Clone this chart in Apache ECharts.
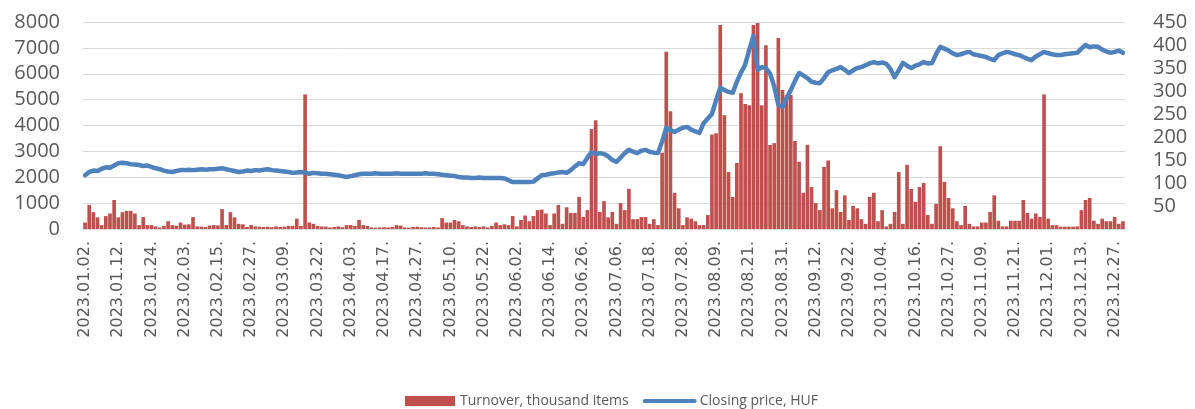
<!DOCTYPE html>
<html>
<head>
<meta charset="utf-8">
<script src="https://cdn.jsdelivr.net/npm/echarts@6/dist/echarts.min.js"></script>
<style>html,body{margin:0;padding:0;background:#fff}#c{width:1195px;height:409px}</style>
</head>
<body>
<div id="c"></div>
<script>
// Trading days of 2023 (weekdays minus Hungarian exchange holidays)
const year = 2023;
const holidays = ['2023-03-15','2023-04-07','2023-04-10','2023-05-01','2023-05-29','2023-10-23','2023-11-01','2023-12-25','2023-12-26'];

// Turnover, thousand items (one per trading day)
const turnover = [
  250, 930, 650, 450, 150, 500, 600, 1120, 450, 650,
  700, 700, 600, 150, 460, 150, 150, 100, 60, 120,
  300, 150, 130, 250, 170, 180, 460, 100, 90, 80,
  130, 150, 140, 770, 150, 650, 450, 200, 180, 80,
  150, 100, 90, 80, 90, 70, 100, 80, 90, 120,
  120, 400, 120, 5200, 250, 200, 120, 100, 90, 60,
  80, 100, 70, 150, 150, 120, 350, 150, 120, 60,
  50, 60, 70, 60, 80, 150, 130, 60, 50, 80,
  90, 70, 60, 60, 80, 60, 420, 250, 250, 350,
  300, 150, 100, 80, 100, 80, 100, 60, 120, 250,
  150, 180, 150, 500, 100, 350, 520, 300, 500, 730,
  750, 600, 150, 600, 930, 200, 840, 620, 620, 1240,
  470, 730, 3860, 4200, 660, 1080, 450, 660, 200, 1000,
  730, 1550, 380, 380, 460, 460, 200, 380, 150, 2950,
  6850, 4550, 1400, 800, 150, 450, 400, 300, 150, 150,
  540, 3650, 3700, 7880, 4400, 2200, 1240, 2550, 5250, 4830,
  4780, 7880, 7960, 4780, 7100, 3250, 3320, 7380, 5370, 5180,
  5180, 3400, 2600, 1400, 3250, 1620, 1000, 730, 2400, 2650,
  800, 1500, 660, 1300, 350, 890, 800, 380, 200, 1240,
  1400, 300, 730, 100, 200, 660, 2200, 200, 2480, 1550,
  1050, 1620, 1780, 540, 200, 970, 3200, 1820, 1200, 800,
  300, 150, 890, 200, 100, 100, 250, 250, 660, 1300,
  320, 100, 100, 320, 320, 320, 1120, 620, 400, 600,
  470, 5200, 400, 150, 150, 90, 90, 90, 90, 100,
  730, 1120, 1200, 320, 200, 400, 300, 300, 470, 200, 300
];

// Closing price, HUF
const closingPrice = [
  117, 124, 127, 126, 131, 134, 133, 138, 143,
  144, 143, 141, 140, 139,
  137, 138, 135, 132, 130, 127, 125, 124,
  126, 128, 128, 129, 128, 129, 130, 129, 130, 130, 131, 132,
  130, 128, 126, 124,
  125, 127, 126, 128, 127, 129, 130,
  128, 127, 126, 125, 124, 122,
  123, 124, 123, 120, 122,
  121, 120, 120, 119, 118, 117, 115, 113,
  115, 117, 119, 120,
  120, 120, 121, 120, 120, 120, 120, 121, 120, 120, 120, 120, 120, 120, 121, 120, 120, 119,
  118, 117, 116, 115, 113,
  112, 112, 111, 111, 112, 111, 111, 111, 111, 111, 110,
  106, 102,
  102, 102, 102, 102, 103,
  110, 117,
  118, 120, 121, 123, 124,
  122, 128, 136, 143,
  141, 155, 167,
  163, 165, 163, 158, 150, 146,
  155, 165, 172,
  168, 165, 170, 172,
  168, 166, 165,
  190, 220,
  215, 211, 216, 220, 222,
  216, 212, 209,
  230, 240, 250, 280, 307,
  302, 298, 296,
  320, 340, 357, 390, 420,
  346, 352, 350, 338, 310,
  270, 265,
  285, 302, 322, 339,
  334, 328, 320, 318, 317,
  328, 341, 345, 348, 352,
  346, 339, 345, 350,
  352, 356, 360, 363,
  360, 362, 359, 348, 330,
  345, 361, 355, 350,
  355, 358, 363, 360, 361,
  380, 396,
  392, 388, 382, 378, 380, 383, 385,
  380, 378, 376, 374, 370, 367,
  378, 382, 385,
  383, 380, 378, 374, 370, 367,
  375, 380, 385,
  382, 380, 378, 378,
  380, 381, 382, 383,
  392, 400,
  395, 397, 396,
  390, 386, 383, 385, 388, 383
];

const leftTicks = { min: 0, max: 8000, interval: 1000 };
const rightTicks = { min: 0, max: 450, interval: 50 };
const seriesNames = ['Turnover, thousand items', 'Closing price, HUF'];

function pad(n){ return (n < 10 ? '0' : '') + n; }
const dates = [];
for (let d = new Date(Date.UTC(year, 0, 1)); d.getUTCFullYear() === year; d.setUTCDate(d.getUTCDate() + 1)) {
  const wd = d.getUTCDay();
  const iso = year + '-' + pad(d.getUTCMonth() + 1) + '-' + pad(d.getUTCDate());
  if (wd === 0 || wd === 6 || holidays.indexOf(iso) >= 0) continue;
  dates.push(year + '.' + pad(d.getUTCMonth() + 1) + '.' + pad(d.getUTCDate()) + '.');
}

const chart = echarts.init(document.getElementById('c'), null, { renderer: 'canvas' });
const gray = '#595959';
chart.setOption({
  animation: false,
  backgroundColor: '#fff',
  grid: { left: 83, right: 70, top: 22, bottom: 180 },
  legend: {
    left: 400, top: 389,
    itemWidth: 50, itemHeight: 10, itemGap: 14,
    textStyle: { color: gray, fontSize: 14, fontFamily: 'Open Sans' },
    data: [
      { name: seriesNames[0], icon: 'rect' },
      { name: seriesNames[1], itemStyle: { opacity: 0 }, lineStyle: { width: 4, color: '#4F81BD' } }
    ]
  },
  xAxis: {
    type: 'category',
    data: dates,
    boundaryGap: true,
    axisLine: { show: false },
    axisTick: { show: false },
    axisLabel: {
      interval: 7, rotate: 90, margin: 12,
      color: gray, fontSize: 16, fontFamily: 'DejaVu Sans'
    }
  },
  yAxis: [
    {
      type: 'value', min: leftTicks.min, max: leftTicks.max, interval: leftTicks.interval,
      axisLine: { show: false }, axisTick: { show: false },
      axisLabel: { color: gray, fontSize: 20, fontFamily: 'Open Sans', margin: 23, formatter: function (v) { return String(v); } },
      splitLine: { lineStyle: { color: '#D9D9D9', width: 1 } }
    },
    {
      type: 'value', min: rightTicks.min, max: rightTicks.max, interval: rightTicks.interval,
      axisLine: { show: false }, axisTick: { show: false },
      axisLabel: { color: gray, fontSize: 20, fontFamily: 'Open Sans', margin: 28, showMinLabel: false, formatter: function (v) { return String(v); } },
      splitLine: { show: false }
    }
  ],
  series: [
    {
      name: seriesNames[0], type: 'bar', yAxisIndex: 0, data: turnover,
      barCategoryGap: '12%',
      itemStyle: { color: '#C0504D' }
    },
    {
      name: seriesNames[1], type: 'line', yAxisIndex: 1, data: closingPrice,
      symbol: 'none', z: 3,
      lineStyle: { color: '#4F81BD', width: 4.5, join: 'round', cap: 'round' },
      itemStyle: { color: '#4F81BD' }
    }
  ]
});
</script>
</body>
</html>
